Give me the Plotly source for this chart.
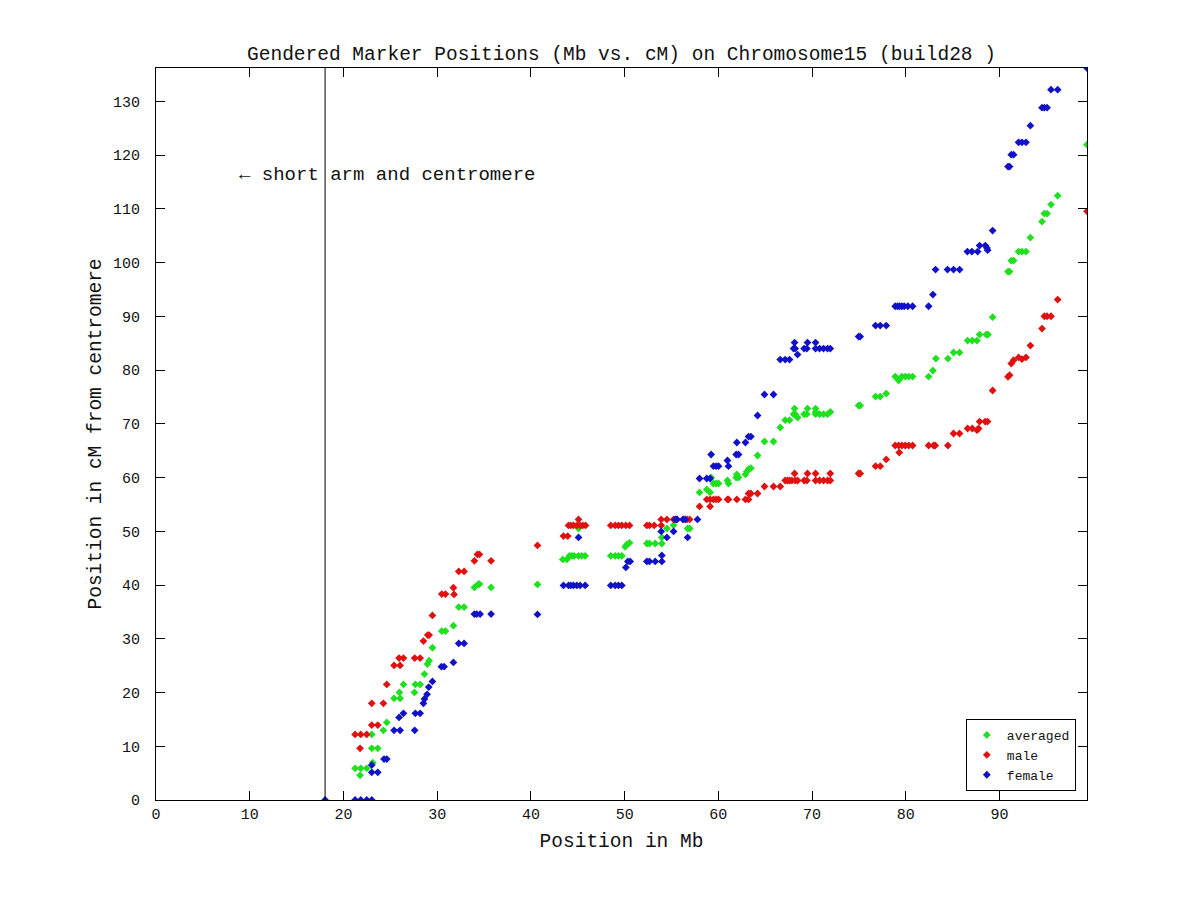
import plotly.graph_objects as go

# ---- data (Mb position, cM position) ----
avg_mb = [21.24, 21.84, 22.48, 21.77, 23.02, 23.02, 23.66, 23.13, 24.26, 24.62,
          25.40, 26.04, 25.97, 27.57, 26.40, 27.67, 28.18, 28.64, 28.96, 29.14,
          29.49, 30.49, 30.88, 31.73, 32.30, 32.87, 33.97, 34.40, 34.51, 35.75,
          40.70, 43.40, 43.83, 44.11, 44.36, 44.61, 45.08, 45.43, 45.79, 45.08,
          48.52, 48.99, 49.34, 49.70, 50.06, 50.24, 50.52, 52.37, 52.65, 53.26,
          53.97, 53.97, 54.51, 55.22, 56.72, 56.94,
          57.99, 58.76, 59.12, 59.23, 59.48, 59.77, 60.02, 60.97, 61.08, 61.97,
          61.90, 62.15, 62.89, 63.04, 63.22, 63.47, 64.18, 64.92, 65.88, 66.60,
          67.13, 67.59, 68.02, 68.20, 68.13, 68.45, 69.15, 69.44, 69.51, 70.37,
          70.37, 70.37, 70.80, 71.22, 71.65, 71.94, 74.96, 75.13, 76.77, 77.27,
          77.91, 78.87, 79.23, 79.58, 79.94, 80.30, 80.72, 82.43, 82.89, 83.21,
          84.49, 85.09, 85.73, 86.59, 87.09, 87.59,
          87.87, 88.58, 88.76, 89.26, 90.90, 91.07, 91.25, 91.50, 92.03, 92.39,
          92.82, 93.29, 94.53, 94.78, 95.07, 95.49, 96.20, 99.33]
avg_cm = [5.89, 5.89, 5.89, 4.59, 12.21, 9.61, 9.61, 6.94, 12.96, 14.44,
          18.91, 18.91, 20.02, 20.02, 21.51, 21.51, 21.51, 23.43, 25.29, 25.91,
          28.33, 31.43, 31.43, 32.43, 35.89, 35.89, 39.55, 40.17, 40.17, 39.55,
          40.11, 44.76, 44.76, 45.44, 45.44, 45.44, 45.44, 45.44, 45.44, 50.52,
          45.44, 45.44, 45.44, 45.44, 47.11, 47.55, 47.86, 47.73, 47.73, 47.73,
          47.73, 48.85, 50.52, 51.14, 50.52, 50.52,
          57.22, 57.78, 57.22, 60.01, 58.89, 58.89, 58.89, 59.45, 58.89, 60.57,
          60.01, 60.01, 60.57, 61.13, 61.56, 61.75, 64.10, 66.70, 66.70, 69.31,
          70.67, 70.67, 71.79, 71.79, 72.83, 71.17, 71.79, 71.79, 72.83, 72.83,
          72.21, 71.79, 71.79, 71.79, 71.79, 72.21, 73.40, 73.40, 75.07, 75.07,
          75.63, 78.79, 78.05, 78.79, 78.79, 78.79, 78.79, 78.79, 79.91, 82.14,
          82.14, 83.26, 83.26, 85.49, 85.49, 85.49,
          86.60, 86.60, 86.60, 89.83, 98.32, 98.32, 100.37, 100.37, 102.04, 102.04,
          102.04, 104.64, 107.62, 109.11, 109.11, 110.78, 112.45, 121.94]

male_mb = [21.24, 21.84, 22.48, 21.77, 23.02, 23.66, 23.02, 24.26, 24.62, 25.40,
           26.04, 25.93, 26.40, 27.60, 28.18, 28.53, 28.99, 29.14, 29.49, 30.49,
           30.88, 31.80, 31.73, 32.30, 32.87, 33.97, 35.75, 34.29, 34.51,
           40.70, 43.47, 43.93, 44.01, 44.26, 44.54, 44.90, 45.25, 45.54, 45.83,
           45.08, 48.52, 48.99, 49.34, 49.70, 50.13, 50.52, 52.37, 52.65, 53.15,
           53.90, 53.90, 54.51, 55.22, 55.58, 56.29, 56.65, 56.94,
           57.99, 59.12, 58.76, 59.12, 59.48, 59.77, 60.02, 60.97, 61.08, 61.97,
           62.89, 63.22, 63.22, 63.47, 64.18, 64.92, 65.88, 66.60, 67.13, 67.38,
           67.59, 67.84, 68.20, 68.45, 68.13, 69.15, 69.44, 69.51, 70.37, 70.37,
           70.80, 71.22, 71.65, 71.94, 71.94, 74.96, 75.13, 76.77, 77.27, 77.91,
           79.30, 78.87, 79.23, 79.58, 79.94, 80.30, 80.72, 82.43, 82.96, 83.14,
           84.49, 85.09, 85.73, 86.59, 87.09, 87.59, 87.76, 87.87, 88.47, 88.72,
           89.26, 90.90, 91.07, 91.25, 91.50, 92.03, 92.39, 92.82, 93.29, 94.53,
           94.78, 95.07, 95.49, 96.20, 99.33]
male_cm = [12.21, 12.21, 12.21, 9.61, 13.95, 13.95, 17.98, 17.98, 21.51, 25.04,
           25.04, 26.41, 26.41, 26.41, 26.41, 29.57, 30.69, 30.69, 34.34, 38.31,
           38.31, 38.25, 39.49, 42.53, 42.53, 44.51, 44.51, 45.69, 45.69,
           47.36, 49.10, 49.10, 51.08, 51.08, 51.08, 51.08, 51.08, 51.08, 51.08,
           52.20, 51.08, 51.08, 51.08, 51.08, 51.08, 51.08, 51.08, 51.08, 51.08,
           51.08, 52.20, 52.20, 52.20, 52.20, 52.20, 52.20, 52.20,
           54.62, 54.62, 55.92, 55.92, 55.92, 55.92, 55.92, 55.92, 55.92, 55.92,
           55.92, 55.92, 57.03, 57.03, 57.03, 58.33, 58.33, 58.33, 59.45, 59.45,
           59.45, 59.45, 59.45, 59.45, 60.75, 59.45, 59.45, 60.75, 60.75, 59.45,
           59.45, 59.45, 59.45, 59.45, 60.75, 60.75, 60.75, 62.12, 62.12, 63.36,
           64.66, 65.96, 65.96, 65.96, 65.96, 65.96, 65.96, 65.96, 65.96, 65.96,
           65.96, 68.19, 68.19, 69.12, 69.12, 68.81, 69.12, 70.42, 70.42, 70.42,
           76.19, 78.73, 79.04, 81.21, 81.83, 82.34, 82.03, 82.34, 84.56, 87.72,
           90.01, 90.01, 90.01, 93.11, 109.54]

female_mb = [18.04, 21.24, 21.84, 22.48, 23.02, 23.02, 23.66, 23.02, 24.33, 24.62,
             25.40, 26.04, 27.60, 25.93, 26.40, 27.67, 28.18, 28.53, 28.64, 28.92,
             29.10, 29.49, 30.45, 30.74, 31.73, 32.30, 32.87, 33.97, 34.22, 34.58,
             35.75,
             40.70, 43.47, 44.01, 44.26, 44.54, 44.90, 45.25, 45.79, 45.08, 48.52,
             48.99, 49.34, 49.70, 50.13, 50.34, 50.59, 52.37, 52.65, 53.26, 53.97,
             53.97, 53.90, 54.51, 55.22, 55.40, 55.58, 56.22, 56.47, 56.72, 57.77,
             57.99, 58.76, 59.12, 59.23, 59.48, 59.77, 60.02, 60.97, 61.08, 61.97,
             61.90, 62.15, 62.89, 63.22, 63.47, 64.18, 64.92, 65.88, 66.60, 67.13,
             67.59, 68.02, 68.20, 68.13, 68.45, 69.15, 69.44, 69.51, 70.37, 70.37,
             70.80, 71.22, 71.65, 71.94, 74.96, 75.13, 76.77, 77.27, 77.91,
             78.87, 79.12, 79.34, 79.58, 79.83, 80.22, 80.72, 82.43, 82.89, 83.17,
             84.45, 85.09, 85.74, 86.57, 87.05, 87.66, 87.87, 88.48, 88.66, 88.73,
             89.26,
             90.90, 91.07, 91.25, 91.50, 92.03, 92.39, 92.82, 93.29, 94.53, 94.78,
             95.07, 95.49, 96.20, 99.33]
female_cm = [0.0, 0.0, 0.0, 0.0, 0.0, 5.15, 5.15, 6.51, 7.62, 7.62,
             12.96, 12.96, 12.96, 15.37, 16.12, 16.12, 16.12, 17.98, 18.79, 19.66,
             21.01, 22.07, 24.80, 24.80, 25.60, 29.14, 29.14, 34.59, 34.59, 34.59,
             34.59,
             34.53, 39.92, 39.92, 39.92, 39.92, 39.92, 39.92, 39.92, 48.85, 39.92,
             39.92, 39.92, 39.92, 43.27, 44.39, 44.39, 44.39, 44.39, 44.39, 44.39,
             45.50, 49.97, 48.85, 49.97, 52.20, 52.20, 52.20, 52.20, 48.85, 52.20,
             59.82, 59.82, 59.82, 64.29, 62.12, 62.12, 62.12, 63.17, 62.12, 66.52,
             64.29, 64.29, 66.52, 67.63, 67.63, 71.54, 75.45, 75.45, 81.95, 81.95,
             81.95, 84.00, 84.00, 85.12, 82.88, 84.00, 84.00, 85.12, 85.12, 84.00,
             84.00, 84.00, 84.00, 84.00, 86.23, 86.23, 88.28, 88.28, 88.28,
             91.87, 91.87, 91.87, 91.87, 91.87, 91.87, 91.87, 91.87, 94.04, 98.69,
             98.69, 98.69, 98.69, 102.04, 102.04, 102.04, 103.16, 103.16, 102.70, 102.30,
             105.95,
             117.85, 117.85, 120.08, 120.08, 122.37, 122.37, 122.37, 125.47, 128.82, 128.82,
             128.82, 132.17, 132.17, 136.20]

series_names = ["averaged", "male", "female"]
series_colors = ["#1ee01e", "#e01111", "#1111c8"]
centromere_mb = 18.04
x_max = 99.33
y_max = 136.2
x_ticks = [0, 10, 20, 30, 40, 50, 60, 70, 80, 90]
y_ticks = [0, 10, 20, 30, 40, 50, 60, 70, 80, 90, 100, 110, 120, 130]
note_pos = (8.64, 116.2)

FONT = "Liberation Mono"
TXT = "#111"

fig = go.Figure()
for name, color, xs, ys in zip(series_names, series_colors,
                               [avg_mb, male_mb, female_mb],
                               [avg_cm, male_cm, female_cm]):
    fig.add_trace(go.Scatter(x=xs, y=ys, mode="markers", name=name,
                             marker=dict(symbol="diamond", size=6, color=color,
                                         line=dict(width=0))))

fig.add_shape(type="line", xref="x", yref="paper", x0=centromere_mb, x1=centromere_mb,
              y0=0, y1=1, line=dict(color="black", width=1))
fig.add_annotation(x=note_pos[0], y=note_pos[1], xref="x", yref="y",
                   text="← short arm and centromere", showarrow=False,
                   xanchor="left", yanchor="middle",
                   font=dict(family=FONT, size=19, color=TXT))

axis_common = dict(showline=True, linecolor="black", linewidth=1, mirror="ticks",
                   ticks="inside", ticklen=9, tickcolor="black", tickwidth=1,
                   showgrid=False, zeroline=False,
                   tickfont=dict(family=FONT, size=15, color=TXT))

# the page body has an 8px default margin, so margins are offset by 8px
fig.update_layout(
    width=1200, height=900,
    margin=dict(l=148, r=121, t=60, b=108),
    paper_bgcolor="white", plot_bgcolor="white",
    title=dict(text="Gendered Marker Positions (Mb vs. cM) on Chromosome15 (build28 )",
               x=0.5, xref="paper", y=1 - 45 / 900, yref="container",
               xanchor="center", yanchor="middle",
               font=dict(family=FONT, size=19.5, color=TXT)),
    xaxis=dict(range=[0, x_max], tickvals=x_ticks,
               title=dict(text="Position in Mb", standoff=10,
                          font=dict(family=FONT, size=19.5, color=TXT)),
               **axis_common),
    yaxis=dict(range=[0, y_max], tickvals=y_ticks, ticklabelstandoff=12,
               title=dict(text="Position in cM from centromere", standoff=6,
                          font=dict(family=FONT, size=19.5, color=TXT)),
               **axis_common),
    legend=dict(x=0.988, y=0.0123, xanchor="right", yanchor="bottom",
                bgcolor="white", bordercolor="black", borderwidth=1,
                font=dict(family=FONT, size=13, color=TXT),
                tracegroupgap=0, itemsizing="trace"),
    showlegend=True,
)

fig.write_html("out.html")
